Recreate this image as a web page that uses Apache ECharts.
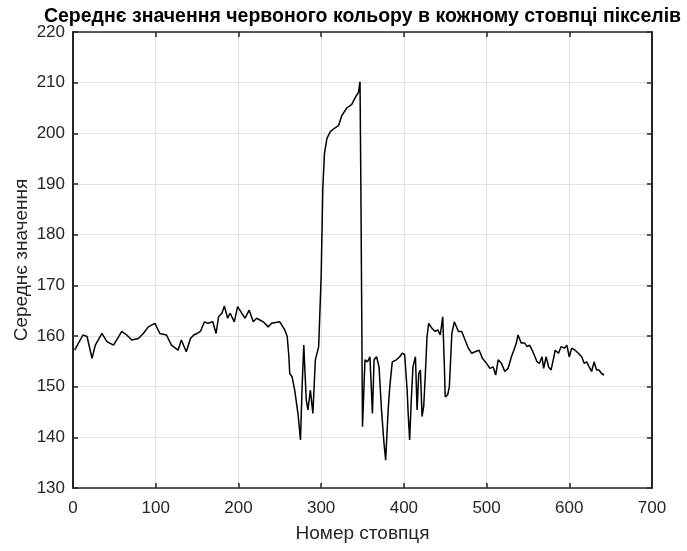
<!DOCTYPE html>
<html>
<head>
<meta charset="utf-8">
<script src="https://cdn.jsdelivr.net/npm/echarts@6/dist/echarts.min.js"></script>
<style>
html,body{margin:0;padding:0;background:#fff;}
#chart{width:687px;height:551px;}
</style>
</head>
<body>
<div id="chart"></div>
<script>
// Column index (pixel column) and mean red value
const columnIdx = [2,12,17,23,27,35,41,49,59,65,71,79,85,91,99,105,113,119,127,131,137,142,146,150,154,159,163,169,173,176,180,183,187,190,195,199,204,208,213,218,222,230,236,240,250,256,259,261,262,265,268,272,275,277,279,282,284,287,290,293,297,300,302,304,307,311,316,321,325,331,337,342,345,347,348,350,353,356,359,362,364,367,370,373,376,378,381,383,386,391,395,398,401,404,405,407,409,411,414,416,418,420,422,424,426,428,430,434,438,441,444,447,449,450,453,455,458,461,466,470,474,478,482,486,491,495,500,504,508,511,514,518,522,526,530,533,536,538,542,546,549,552,556,561,564,567,569,572,575,578,581,583,587,590,594,597,600,603,607,611,615,618,621,624,627,630,633,636,639,642];
const meanRed = [157.2,160.2,159.9,155.6,158.2,160.5,158.9,158.2,160.9,160.2,159.2,159.5,160.5,161.8,162.5,160.5,160.2,158.2,157.2,159.2,156.9,159.5,160.2,160.5,160.9,162.8,162.5,162.8,160.5,163.8,164.5,165.9,163.5,164.5,162.8,165.8,164.5,163.5,165.1,162.8,163.5,162.8,161.8,162.5,162.8,161.2,159.9,155.9,152.6,151.9,149.3,144.7,139.5,150.0,158.2,147.4,145.4,149.3,144.7,155.3,157.9,171.7,189.0,196.0,199.0,200.3,201.0,201.5,203.5,205.0,205.7,207.3,208.0,210.2,190.0,142.1,155.3,154.9,155.9,144.7,155.3,155.9,153.9,145.4,138.8,135.5,145.4,150.0,154.9,155.3,155.9,156.6,156.3,149.3,145.4,139.5,147.4,153.9,155.9,145.4,152.6,153.3,144.1,146.1,152.6,159.9,162.5,161.5,160.9,161.2,160.2,163.8,153.9,148.0,148.4,150.0,160.5,162.8,160.9,160.9,159.2,157.6,156.6,156.9,157.2,155.6,154.6,153.6,153.9,152.3,155.3,154.6,153.0,153.6,155.9,157.2,158.6,160.2,158.6,158.6,157.9,158.2,156.9,154.9,154.6,155.9,153.6,155.9,153.9,153.3,155.6,157.2,156.6,157.9,157.6,158.2,155.9,157.6,157.2,156.6,155.9,154.6,154.9,153.9,153.0,154.9,153.3,153.3,152.6,152.3];
const xTicks = [0,100,200,300,400,500,600,700];
const yTicks = [130,140,150,160,170,180,190,200,210,220];
const titleText = 'Середнє значення червоного кольору в кожному стовпці пікселів';
const xLabel = 'Номер стовпця';
const yLabel = 'Середнє значення';

const points = columnIdx.map((c, i) => [c, meanRed[i]]);
const axisColor = '#262626';
const gridColor = '#e0e0e0';

const chart = echarts.init(document.getElementById('chart'), null, {renderer: 'canvas'});

function xAx(pos, showLabels) {
  return {
    type: 'value', position: pos, min: xTicks[0], max: xTicks[xTicks.length - 1], interval: 100,
    axisLine: {show: true, onZero: false, lineStyle: {color: axisColor, width: 1.5}},
    axisTick: {show: true, inside: true, length: 5, lineStyle: {color: axisColor, width: 1.5}},
    axisLabel: {show: showLabels, color: axisColor, fontFamily: 'Liberation Sans', fontSize: 17, margin: 12},
    splitLine: {show: showLabels, lineStyle: {color: gridColor, width: 1}}
  };
}
function yAx(pos, showLabels) {
  return {
    type: 'value', position: pos, min: yTicks[0], max: yTicks[yTicks.length - 1], interval: 10,
    axisLine: {show: true, onZero: false, lineStyle: {color: axisColor, width: 2}},
    axisTick: {show: true, inside: true, length: 5, lineStyle: {color: axisColor, width: 1.5}},
    axisLabel: {show: showLabels, color: axisColor, fontFamily: 'Liberation Sans', fontSize: 17, margin: 8},
    splitLine: {show: showLabels, lineStyle: {color: gridColor, width: 1}}
  };
}

chart.setOption({
  animation: false,
  backgroundColor: '#ffffff',
  grid: {left: 73, right: 35, top: 32, bottom: 63, containLabel: false},
  xAxis: [xAx('bottom', true), xAx('top', false)],
  yAxis: [yAx('left', true), yAx('right', false)],
  graphic: [
    {type: 'text', x: 362.5, y: 17, style: {text: titleText, textAlign: 'center', textVerticalAlign: 'middle', fill: '#000', font: 'bold 19.5px "Liberation Sans"'}},
    {type: 'text', x: 362.5, y: 534, style: {text: xLabel, textAlign: 'center', textVerticalAlign: 'middle', fill: axisColor, font: '19px "Liberation Sans"'}},
    {type: 'text', x: 22, y: 260, rotation: Math.PI / 2, style: {text: yLabel, textAlign: 'center', textVerticalAlign: 'middle', fill: axisColor, font: '19px "Liberation Sans"'}}
  ],
  series: [{
    type: 'line', xAxisIndex: 0, yAxisIndex: 0, data: points, showSymbol: false,
    lineStyle: {color: '#000', width: 1.5}, z: 5
  }]
});
</script>
</body>
</html>
